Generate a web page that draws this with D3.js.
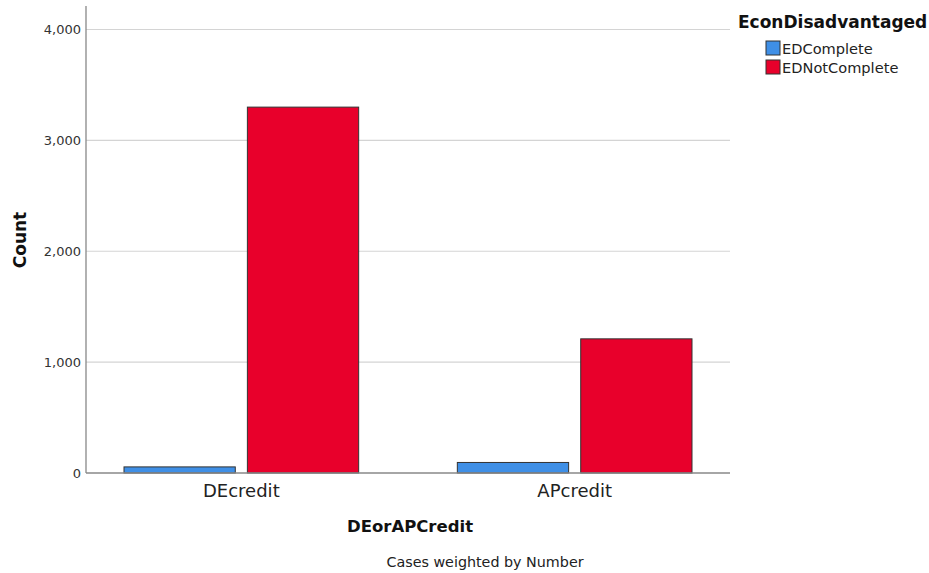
<!DOCTYPE html>
<html><head><meta charset="utf-8">
<script src="https://cdn.jsdelivr.net/npm/d3@7"></script>
<style>
html,body{margin:0;padding:0;background:#fff;}
svg{display:block;font-family:"DejaVu Sans",sans-serif;}
</style></head>
<body>
<svg id="chart" width="929" height="573"></svg>
<script>
const categories = ["DEcredit", "APcredit"];
const seriesNames = ["EDComplete", "EDNotComplete"];
const edComplete = [55, 95];
const edNotComplete = [3300, 1210];
const yTicks = [0, 1000, 2000, 3000, 4000];
const colors = ["#3f8fe6", "#e8002b"];

const seriesValues = [edComplete, edNotComplete];
const rows = categories.map((c, i) => ({cat: c, vals: seriesNames.map((s, j) => ({key: s, value: seriesValues[j][i], idx: j}))}));

const svg = d3.select("#chart");
const plotLeft = 86, plotRight = 730, plotTop = 6, plotBottom = 473;

const y = d3.scaleLinear().domain([0, 4000]).range([plotBottom, 29.5]);
const x0 = d3.scaleBand().domain(categories).range([plotLeft, plotRight]).paddingInner(0.296).paddingOuter(0.114);
const x1 = d3.scaleBand().domain(seriesNames).range([0, x0.bandwidth()]).paddingInner(0.098).paddingOuter(0);

// gridlines
svg.append("g").selectAll("line").data(yTicks.filter(d => d > 0)).join("line")
  .attr("x1", plotLeft).attr("x2", plotRight)
  .attr("y1", d => y(d)).attr("y2", d => y(d))
  .attr("stroke", "#d4d4d4").attr("stroke-width", 1.2);

// y axis
const yAxis = d3.axisLeft(y).tickValues(yTicks).tickFormat(d3.format(",")).tickSize(0).tickPadding(5);
const gy = svg.append("g").attr("transform", `translate(${plotLeft},0)`).call(yAxis);
gy.select(".domain").remove();
gy.selectAll("text").attr("font-size", 13).attr("fill", "#333").attr("font-family", "DejaVu Sans, sans-serif");
svg.append("line").attr("x1", plotLeft).attr("x2", plotLeft).attr("y1", plotTop).attr("y2", plotBottom)
  .attr("stroke", "#888").attr("stroke-width", 1.3);

// bars
const g = svg.append("g").selectAll("g").data(rows).join("g")
  .attr("transform", d => `translate(${x0(d.cat)},0)`);
g.selectAll("rect").data(d => d.vals).join("rect")
  .attr("x", d => x1(d.key)).attr("width", x1.bandwidth())
  .attr("y", d => y(d.value)).attr("height", d => y(0) - y(d.value))
  .attr("fill", d => colors[d.idx]).attr("stroke", "#333").attr("stroke-width", 1);

// x axis
svg.append("line").attr("x1", plotLeft).attr("x2", plotRight).attr("y1", plotBottom).attr("y2", plotBottom)
  .attr("stroke", "#888").attr("stroke-width", 1.3);
const xAxis = d3.axisBottom(x0).tickSize(0).tickPadding(11);
const gx = svg.append("g").attr("transform", `translate(0,${plotBottom})`).call(xAxis);
gx.select(".domain").remove();
gx.selectAll("text").attr("font-size", 18).attr("fill", "#222").attr("font-family", "DejaVu Sans, sans-serif");

// axis titles
svg.append("text").attr("transform", "translate(26,240) rotate(-90)").attr("text-anchor", "middle")
  .attr("font-size", 17).attr("font-weight", "bold").attr("fill", "#111").text("Count");
svg.append("text").attr("x", 410).attr("y", 532).attr("text-anchor", "middle")
  .attr("font-size", 16.5).attr("font-weight", "bold").attr("fill", "#111").text("DEorAPCredit");
svg.append("text").attr("x", 485).attr("y", 567).attr("text-anchor", "middle")
  .attr("font-size", 14.3).attr("fill", "#222").text("Cases weighted by Number");

// legend
svg.append("text").attr("x", 738).attr("y", 28).attr("font-size", 17).attr("font-weight", "bold")
  .attr("fill", "#111").text("EconDisadvantaged");
const lg = svg.append("g").selectAll("g").data(seriesNames).join("g")
  .attr("transform", (d, i) => `translate(766,${41 + i * 19})`);
lg.append("rect").attr("width", 14).attr("height", 14).attr("fill", (d, i) => colors[i])
  .attr("stroke", "#333").attr("stroke-width", 1);
lg.append("text").attr("x", 16).attr("y", 12.5).attr("font-size", 14.6).attr("fill", "#222").text(d => d);
</script>
</body></html>
